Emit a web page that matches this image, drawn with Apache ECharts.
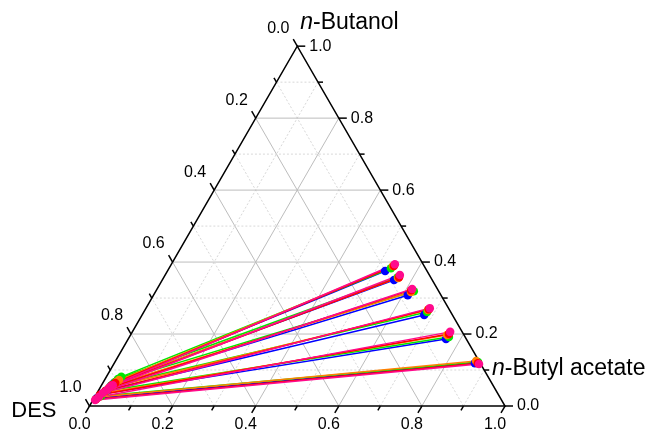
<!DOCTYPE html>
<html>
<head>
<meta charset="utf-8">
<script src="https://cdn.jsdelivr.net/npm/echarts@6/dist/echarts.min.js"></script>
<style>
  html, body { margin: 0; padding: 0; background: #ffffff; }
  #chart { width: 647px; height: 438px; }
</style>
</head>
<body>
<div id="chart"></div>
<script>
// Tie-line end points as [n-Butanol, n-Butyl acetate] mass fractions (DES = remainder).
// "Ester" = n-butyl-acetate-rich phase, "Des" = DES-rich phase.
const blueEster   = [[0.375, 0.524], [0.350, 0.558], [0.308, 0.612], [0.253, 0.679], [0.186, 0.765], [0.119, 0.868]];
const blueDes     = [[0.069, 0.032], [0.064, 0.027], [0.056, 0.024], [0.044, 0.020], [0.033, 0.013], [0.022, 0.007]];
const greenEster  = [[0.383, 0.534], [0.358, 0.563], [0.319, 0.621], [0.261, 0.682], [0.192, 0.769], [0.122, 0.874]];
const greenDes    = [[0.081, 0.036], [0.075, 0.031], [0.067, 0.028], [0.056, 0.024], [0.042, 0.019], [0.028, 0.014]];
const orangeEster = [[0.389, 0.536], [0.356, 0.565], [0.317, 0.615], [0.267, 0.681], [0.197, 0.762], [0.125, 0.868]];
const orangeDes   = [[0.072, 0.035], [0.067, 0.031], [0.058, 0.027], [0.050, 0.022], [0.036, 0.017], [0.025, 0.010]];
const redEster    = [[0.389, 0.538], [0.358, 0.566], [0.322, 0.613], [0.269, 0.682], [0.200, 0.765], [0.119, 0.875]];
const redDes      = [[0.064, 0.030], [0.058, 0.025], [0.050, 0.022], [0.042, 0.017], [0.031, 0.010], [0.019, 0.006]];
const pinkEster   = [[0.394, 0.538], [0.364, 0.565], [0.325, 0.614], [0.272, 0.683], [0.206, 0.765], [0.117, 0.879]];
const pinkDes     = [[0.058, 0.027], [0.053, 0.023], [0.044, 0.020], [0.036, 0.014], [0.025, 0.010], [0.017, 0.005]];

// Axis ticks
const majorTicks = [0, 0.2, 0.4, 0.6, 0.8, 1.0];
const tickLabels = ['0.0', '0.2', '0.4', '0.6', '0.8', '1.0'];
const minorTicks = [0.1, 0.3, 0.5, 0.7, 0.9];

// Corner titles
const topTitle = '{i|n}-Butanol';
const rightTitle = '{i|n}-Butyl acetate';
const leftTitle = 'DES';

const groups = [
  { name: 'set1', color: '#0000ff', ester: blueEster,   des: blueDes },
  { name: 'set2', color: '#00e600', ester: greenEster,  des: greenDes },
  { name: 'set3', color: '#ff8000', ester: orangeEster, des: orangeDes },
  { name: 'set4', color: '#ff0000', ester: redEster,    des: redDes },
  { name: 'set5', color: '#ff0a8c', ester: pinkEster,   des: pinkDes }
];

const SQ = Math.sqrt(3) / 2;
// ternary (butanol, acetate) -> cartesian, DES corner at origin, side length 1
function toXY(butanol, acetate) {
  return [acetate + butanol / 2, butanol * SQ];
}

const FONT = '"Liberation Sans", Arial, Helvetica, sans-serif';
const tickFont = '16px ' + FONT;
const TITLE_SIZE = 23;

function renderFrame(params, api) {
  const px = (a, b) => api.coord(toXY(a, b));
  const kids = [];
  const seg = (p, q, style) => kids.push({
    type: 'line', shape: { x1: p[0], y1: p[1], x2: q[0], y2: q[1] }, style: style
  });

  // grid lines
  for (let k = 1; k <= 9; k++) {
    const v = k / 10;
    const major = k % 2 === 0;
    const st = major
      ? { stroke: '#bdbdbd', lineWidth: 1 }
      : { stroke: '#d8d8d8', lineWidth: 1, lineDash: [2, 2] };
    seg(px(v, 0), px(v, 1 - v), st);          // constant n-butanol
    seg(px(0, v), px(1 - v, v), st);          // constant n-butyl acetate
    seg(px(0, 1 - v), px(1 - v, 0), st);      // constant DES
  }

  // triangle frame
  kids.push({
    type: 'polygon',
    shape: { points: [px(0, 0), px(0, 1), px(1, 0)] },
    style: { fill: null, stroke: '#000', lineWidth: 1.5, lineJoin: 'miter' }
  });

  const tickStyle = { stroke: '#000', lineWidth: 1.5 };
  const text = (s, x, y, align, font, rich) => kids.push({
    type: 'text',
    style: { text: s, x: x, y: y, fill: '#000', font: font, align: align, verticalAlign: 'middle', rich: rich }
  });

  const addTicks = (vals, len, withLabels) => {
    vals.forEach((v, i) => {
      // bottom axis: n-butyl acetate, ticks point down-left
      const pb = px(0, v);
      seg(pb, [pb[0] - 0.5 * len, pb[1] + SQ * len], tickStyle);
      // right axis: n-butanol, ticks point right
      const pr = px(v, 1 - v);
      seg(pr, [pr[0] + len, pr[1]], tickStyle);
      // left axis: DES, ticks point up-left
      const pl = px(1 - v, 0);
      seg(pl, [pl[0] - 0.5 * len, pl[1] - SQ * len], tickStyle);
      if (withLabels) {
        const t = tickLabels[i];
        text(t, pb[0] - 10, pb[1] + 19, 'center', tickFont);
        text(t, pr[0] + len + 4, pr[1], 'left', tickFont);
        text(t, pl[0] - 19, pl[1] - 18, 'center', tickFont);
      }
    });
  };
  addTicks(minorTicks, 5, false);
  addTicks(majorTicks, 8, true);

  // corner titles
  const titleFont = TITLE_SIZE + 'px ' + FONT;
  const rich = { i: { fontStyle: 'italic', fontSize: TITLE_SIZE, fontFamily: FONT, fill: '#000' } };
  const apex = px(1, 0), rc = px(0, 1), lc = px(0, 0);
  text(topTitle, apex[0] + 3, apex[1] - 24, 'left', titleFont, rich);
  text(rightTitle, rc[0] - 13, rc[1] - 37, 'left', titleFont, rich);
  text(leftTitle, lc[0] - 33, lc[1] + 5, 'right', '22px ' + FONT);

  return { type: 'group', children: kids };
}

const series = [{
  type: 'custom',
  renderItem: renderFrame,
  data: [[0, 0]],
  silent: true,
  z: 1
}];

groups.forEach(g => {
  series.push({
    name: g.name,
    type: 'lines',
    coordinateSystem: 'cartesian2d',
    silent: true,
    z: 2,
    lineStyle: { color: g.color, width: 1.5, opacity: 1 },
    data: g.ester.map((e, i) => ({ coords: [toXY(e[0], e[1]), toXY(g.des[i][0], g.des[i][1])] }))
  });
});
groups.forEach(g => {
  series.push({
    name: g.name,
    type: 'scatter',
    symbol: 'circle',
    symbolSize: 8.5,
    silent: true,
    z: 3,
    itemStyle: { color: g.color, opacity: 1 },
    data: g.ester.concat(g.des).map(p => toXY(p[0], p[1]))
  });
});

// pixel layout: DES corner at (89.5, 406), side 415.5 px
const S = 415.5;
const chart = echarts.init(document.getElementById('chart'), null, { renderer: 'canvas' });
chart.setOption({
  animation: false,
  backgroundColor: '#ffffff',
  grid: { left: 0, top: 0, width: 647, height: 438 },
  xAxis: { type: 'value', min: -89.5 / S, max: (647 - 89.5) / S, show: false },
  yAxis: { type: 'value', min: -(438 - 406) / S, max: 406 / S, show: false },
  series: series
});
</script>
</body>
</html>
